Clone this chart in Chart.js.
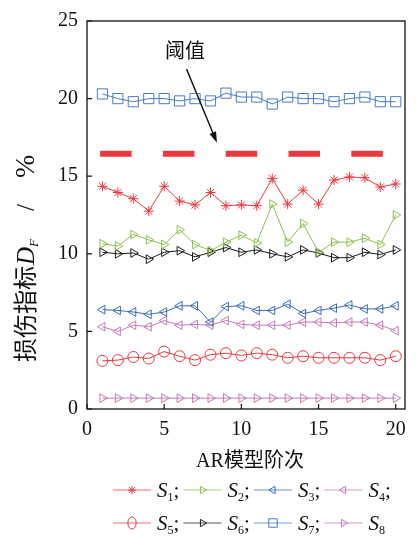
<!DOCTYPE html>
<html>
<head>
<meta charset="utf-8">
<script src="https://cdn.jsdelivr.net/npm/chart.js@4/dist/chart.umd.min.js"></script>
<style>
html,body{margin:0;padding:0;background:#fff;}
#wrap{width:416px;height:536px;position:relative;}
</style>
</head>
<body>
<div id="wrap"><canvas id="c"></canvas></div>
<script>
// ---- data ----
const orders = [1,2,3,4,5,6,7,8,9,10,11,12,13,14,15,16,17,18,19,20];
const S1 = [14.35,13.95,13.55,12.75,14.35,13.4,13.15,13.95,13.1,13.15,13.1,14.85,13.2,14.1,13.2,14.75,14.95,14.9,14.3,14.5];
const S2 = [10.65,10.5,11.25,10.9,10.6,11.55,10.6,10.2,10.75,11.2,10.7,13.2,10.75,11.95,10.1,10.75,10.75,11.0,10.6,12.5];
const S3 = [6.4,6.35,6.25,6.1,6.25,6.65,6.65,5.6,6.6,6.65,6.35,6.35,6.75,6.15,6.35,6.5,6.7,6.45,6.45,6.65];
const S4 = [5.3,5.0,5.4,5.3,5.7,5.4,5.45,5.4,5.7,5.45,5.4,5.4,5.4,5.6,5.6,5.55,5.6,5.6,5.4,5.05];
const S5 = [3.1,3.15,3.35,3.25,3.7,3.4,3.15,3.5,3.6,3.45,3.6,3.5,3.3,3.4,3.3,3.3,3.3,3.3,3.15,3.4];
const S6 = [10.1,10.0,10.05,9.65,10.1,10.2,9.8,10.1,10.4,10.1,10.25,10.0,9.8,10.25,10.05,9.75,9.75,10.1,9.95,10.25];
const S7 = [20.3,20.0,19.8,20.0,20.0,19.85,20.0,19.85,20.35,20.1,20.1,19.65,20.1,20.0,20.0,19.8,20.0,20.1,19.8,19.8];
const S8 = [0.7,0.7,0.7,0.7,0.7,0.7,0.7,0.7,0.7,0.7,0.7,0.7,0.7,0.7,0.7,0.7,0.7,0.7,0.7,0.7];
const seriesNames = ['1','2','3','4','5','6','7','8'];
const thresholdValue = 16.45;
const thresholdRange = [0.85, 20];
const xTicks = [0,5,10,15,20];
const yTicks = [0,5,10,15,20,25];
const xTitle = 'AR模型阶次';
const yTitleMain = '损伤指标';
const annotationText = '阈值';
const annotationTextAt = [6.35, 22.95];
const arrowFrom = [6.45, 21.9];
const arrowTo = [8.42, 17.15];

// ---- styles ----
const RED = '#e8393f', GREEN = '#8cc04e', BLUE3 = '#3a6db5', MAUVE = '#c27bb4', BLACK = '#1a1a1a', BLUE7 = '#4a7cc2';
const styles = [
  {color: RED,   pointStyle: 'star',     rotation: 0,   radius: 5},
  {color: GREEN, pointStyle: 'triangle', rotation: 90,  radius: 5},
  {color: BLUE3, pointStyle: 'triangle', rotation: -90, radius: 5},
  {color: MAUVE, pointStyle: 'triangle', rotation: -90, radius: 5},
  {color: RED,   pointStyle: 'circle',   rotation: 0,   radius: 5.5},
  {color: BLACK, pointStyle: 'triangle', rotation: 90,  radius: 5},
  {color: BLUE7, pointStyle: 'rect',     rotation: 0,   radius: 7.2},
  {color: MAUVE, pointStyle: 'triangle', rotation: 90,  radius: 5}
];
const allSeries = [S1,S2,S3,S4,S5,S6,S7,S8];
const SERIF = '"Liberation Serif", "Noto Sans CJK SC", serif';

const datasets = allSeries.map((arr, i) => ({
  label: 'S' + seriesNames[i],
  data: orders.map((o, k) => ({x: o, y: arr[k]})),
  borderColor: styles[i].color,
  backgroundColor: 'rgba(0,0,0,0)',
  borderWidth: 1,
  pointStyle: styles[i].pointStyle,
  pointRotation: styles[i].rotation,
  pointRadius: styles[i].radius,
  pointBorderWidth: 1,
  pointBorderColor: styles[i].color,
  pointBackgroundColor: 'rgba(0,0,0,0)',
  tension: 0,
  order: i + 1
}));
datasets.push({
  label: 'threshold',
  data: thresholdRange.map(x => ({x: x, y: thresholdValue})),
  borderColor: RED,
  borderWidth: 6,
  borderDash: [31.5, 31.3],
  borderCapStyle: 'butt',
  pointRadius: 0,
  order: 20
});

function drawMarker(ctx, style, x, y, r, color) {
  ctx.save();
  ctx.strokeStyle = color; ctx.lineWidth = 1;
  ctx.beginPath();
  if (style.pointStyle === 'circle') {
    ctx.ellipse(x, y, r * 0.75, r * 1.1, 0, 0, Math.PI * 2);
  } else if (style.pointStyle === 'rect') {
    const s = r * Math.SQRT1_2;
    ctx.rect(x - s, y - s, 2 * s, 2 * s);
  } else if (style.pointStyle === 'triangle') {
    let rad = style.rotation * Math.PI / 180;
    ctx.moveTo(x + Math.sin(rad) * r, y - Math.cos(rad) * r);
    rad += 2 * Math.PI / 3;
    ctx.lineTo(x + Math.sin(rad) * r, y - Math.cos(rad) * r);
    rad += 2 * Math.PI / 3;
    ctx.lineTo(x + Math.sin(rad) * r, y - Math.cos(rad) * r);
    ctx.closePath();
  } else if (style.pointStyle === 'star') {
    for (let a = 0; a < 4; a++) {
      const rad = a * Math.PI / 4;
      ctx.moveTo(x - Math.cos(rad) * r, y - Math.sin(rad) * r);
      ctx.lineTo(x + Math.cos(rad) * r, y + Math.sin(rad) * r);
    }
  }
  ctx.stroke();
  ctx.restore();
}

function drawRich(ctx, segs, x, y) {
  let cx = x;
  segs.forEach(s => {
    ctx.font = s.font;
    ctx.fillText(s.t, cx + (s.before || 0), y + (s.dy || 0));
    cx += (s.before || 0) + ctx.measureText(s.t).width + (s.after || 0);
  });
  return cx - x;
}

const decor = {
  id: 'decor',
  afterDraw(chart) {
    const ctx = chart.ctx;
    const a = chart.chartArea;
    const xs = chart.scales.x, ys = chart.scales.y;
    ctx.save();
    // frame
    ctx.strokeStyle = '#111'; ctx.lineWidth = 1.3;
    ctx.strokeRect(a.left, a.top, a.right - a.left, a.bottom - a.top);
    // inward ticks
    ctx.lineWidth = 1.2;
    ctx.beginPath();
    xTicks.forEach(v => { const px = xs.getPixelForValue(v); ctx.moveTo(px, a.bottom); ctx.lineTo(px, a.bottom - 5); });
    yTicks.forEach(v => { const py = ys.getPixelForValue(v); ctx.moveTo(a.left, py); ctx.lineTo(a.left + 5, py); });
    ctx.stroke();

    ctx.fillStyle = '#111';
    ctx.textBaseline = 'alphabetic';
    // x title
    ctx.font = '20px ' + SERIF;
    ctx.textAlign = 'center';
    ctx.fillText(xTitle, (a.left + a.right) / 2 + 4, 467);
    ctx.textAlign = 'left';

    // y title (rotated), drawn upward from the bottom end
    const ySegs = [
      {t: yTitleMain, font: '24px ' + SERIF},
      {t: 'D', font: 'italic 25px ' + SERIF, before: 1},
      {t: 'F', font: 'italic 13px ' + SERIF, dy: 4},
      {t: '/', font: '25px ' + SERIF, before: 28},
      {t: '%', font: '28px ' + SERIF, before: 26}
    ];
    ctx.save();
    ctx.translate(34, 362);
    ctx.rotate(-Math.PI / 2);
    drawRich(ctx, ySegs, 0, 0);
    ctx.restore();

    // annotation
    ctx.font = '20px ' + SERIF;
    ctx.textAlign = 'center';
    ctx.textBaseline = 'middle';
    ctx.fillText(annotationText, xs.getPixelForValue(annotationTextAt[0]), ys.getPixelForValue(annotationTextAt[1]));
    ctx.textAlign = 'left';
    ctx.textBaseline = 'alphabetic';
    const x0 = xs.getPixelForValue(arrowFrom[0]), y0 = ys.getPixelForValue(arrowFrom[1]);
    const x1 = xs.getPixelForValue(arrowTo[0]), y1 = ys.getPixelForValue(arrowTo[1]);
    const ang = Math.atan2(y1 - y0, x1 - x0);
    const hl = 11, hw = 3.5;
    ctx.strokeStyle = '#111'; ctx.lineWidth = 1.4;
    ctx.beginPath();
    ctx.moveTo(x0, y0);
    ctx.lineTo(x1 - Math.cos(ang) * hl * 0.8, y1 - Math.sin(ang) * hl * 0.8);
    ctx.stroke();
    ctx.beginPath();
    ctx.moveTo(x1, y1);
    ctx.lineTo(x1 - Math.cos(ang) * hl - Math.sin(ang) * hw, y1 - Math.sin(ang) * hl + Math.cos(ang) * hw);
    ctx.lineTo(x1 - Math.cos(ang) * hl + Math.sin(ang) * hw, y1 - Math.sin(ang) * hl - Math.cos(ang) * hw);
    ctx.closePath();
    ctx.fill();

    // legend
    const startX = 113, stepX = 70.5, rowY = [490, 523], lineLen = 38;
    for (let i = 0; i < 8; i++) {
      const row = Math.floor(i / 4), col = i % 4;
      const lx = startX + col * stepX, ly = rowY[row];
      const st = styles[i];
      ctx.globalAlpha = 0.75;
      ctx.strokeStyle = st.color; ctx.lineWidth = 1;
      ctx.beginPath(); ctx.moveTo(lx, ly); ctx.lineTo(lx + lineLen, ly); ctx.stroke();
      ctx.globalAlpha = 1;
      const mr = st.pointStyle === 'rect' ? 6 : (st.pointStyle === 'circle' ? 5.5 : 4.2);
      drawMarker(ctx, st, lx + lineLen / 2, ly, mr, st.color);
      ctx.fillStyle = '#111';
      const segs = [
        {t: 'S', font: 'italic 21px ' + SERIF},
        {t: seriesNames[i], font: '12px ' + SERIF, dy: 4},
      ];
      if (i < 7) segs.push({t: ';', font: '21px ' + SERIF});
      drawRich(ctx, segs, lx + lineLen + 6, ly + 7);
    }
    ctx.restore();
  }
};

new Chart(document.getElementById('c'), {
  type: 'line',
  data: {datasets: datasets},
  options: {
    responsive: true,
    maintainAspectRatio: false,
    animation: false,
    events: [],
    layout: {padding: {left: 0, right: 11, top: 12, bottom: 0}},
    plugins: {legend: {display: false}, tooltip: {enabled: false}},
    scales: {
      x: {
        type: 'linear', min: 0, max: 20.6,
        grid: {display: false, drawTicks: false},
        border: {display: false},
        ticks: {stepSize: 5, includeBounds: false, padding: 9, color: '#111', font: {family: SERIF, size: 20}, maxRotation: 0},
        afterFit(s) { s.height = 127; }
      },
      y: {
        min: 0, max: 25,
        grid: {display: false, drawTicks: false},
        border: {display: false},
        ticks: {stepSize: 5, includeBounds: false, padding: 9, color: '#111', font: {family: SERIF, size: 20}},
        afterFit(s) { s.width = 87; }
      }
    }
  },
  plugins: [decor]
});
</script>
</body>
</html>
